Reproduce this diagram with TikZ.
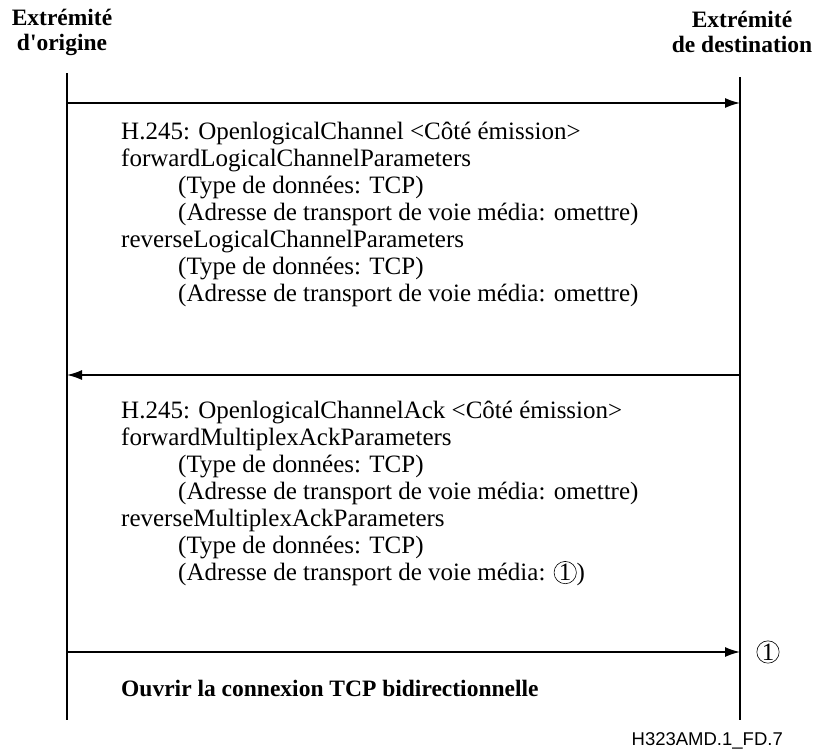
\documentclass[tikz,border=0pt]{standalone}
\usepackage{fontspec}
\setmainfont{Liberation Serif}
\setsansfont{Liberation Sans}
\usetikzlibrary{arrows.meta}

\newcommand{\cone}{\tikz[baseline=(c.base)] \node[circle, draw, line width=0.6pt, inner sep=0.6pt] (c) {1};}
\newcommand{\ind}{\hspace*{57pt}}

\tikzset{
    lifeline/.style={line width=1.2pt},
    msgarrow/.style={line width=1.5pt, -{Latex[length=15pt, width=10pt]}},
    head/.style={font=\bfseries\fontsize{23.5}{25}\selectfont, align=center, inner sep=0pt},
    msgtext/.style={font=\fontsize{25}{27}\selectfont, anchor=base west, inner sep=0pt}
}

\begin{document}
\begin{tikzpicture}[x=1pt, y=-1pt]
        \useasboundingbox (0,0) rectangle (815,753);

        % End points and lifelines
        \node[head] (org) at (62,32) {Extrémité\\d\textquotesingle origine};
        \node[head] (dst) at (742,32) {Extrémité\\de destination};
        \coordinate (o0) at (67,73);
        \coordinate (o1) at (67,720);
        \coordinate (d0) at (740,77);
        \coordinate (d1) at (740,720);
        \draw[lifeline] (o0) -- (o1);
        \draw[lifeline] (d0) -- (d1);

        % Messages
        \coordinate (oa) at (67,103);
        \coordinate (da) at (740,103);
        \coordinate (ob) at (67,375);
        \coordinate (db) at (740,375);
        \coordinate (oc) at (67,652);
        \coordinate (dc) at (740,652);
        \draw[msgarrow] (oa) -- (da);
        \draw[msgarrow] (db) -- (ob);
        \draw[msgarrow] (oc) -- (dc);
        \node[font=\fontsize{25}{27}\selectfont] (mk) at (768,652) {\cone};

        % Message contents
        \node[msgtext] (olc) at (121,139) {\begin{tabular}[t]{@{}l@{}}
            H.245: OpenlogicalChannel <Côté émission>\\
            forwardLogicalChannelParameters\\
            \ind(Type de données: TCP)\\
            \ind(Adresse de transport de voie média: omettre)\\
            reverseLogicalChannelParameters\\
            \ind(Type de données: TCP)\\
            \ind(Adresse de transport de voie média: omettre)
        \end{tabular}};
        \node[msgtext] (olcack) at (121,418) {\begin{tabular}[t]{@{}l@{}}
            H.245: OpenlogicalChannelAck <Côté émission>\\
            forwardMultiplexAckParameters\\
            \ind(Type de données: TCP)\\
            \ind(Adresse de transport de voie média: omettre)\\
            reverseMultiplexAckParameters\\
            \ind(Type de données: TCP)\\
            \ind(Adresse de transport de voie média: \cone)
        \end{tabular}};
        \node[msgtext, font=\bfseries\fontsize{23.5}{27}\selectfont] (tcp) at (121,696) {Ouvrir la connexion TCP bidirectionnelle};

        % Figure reference
        \node[anchor=base east, inner sep=0pt, font=\sffamily\fontsize{18.5}{20}\selectfont] (fig) at (783,745) {H323AMD.1\_FD.7};

    \end{tikzpicture}
\end{document}
